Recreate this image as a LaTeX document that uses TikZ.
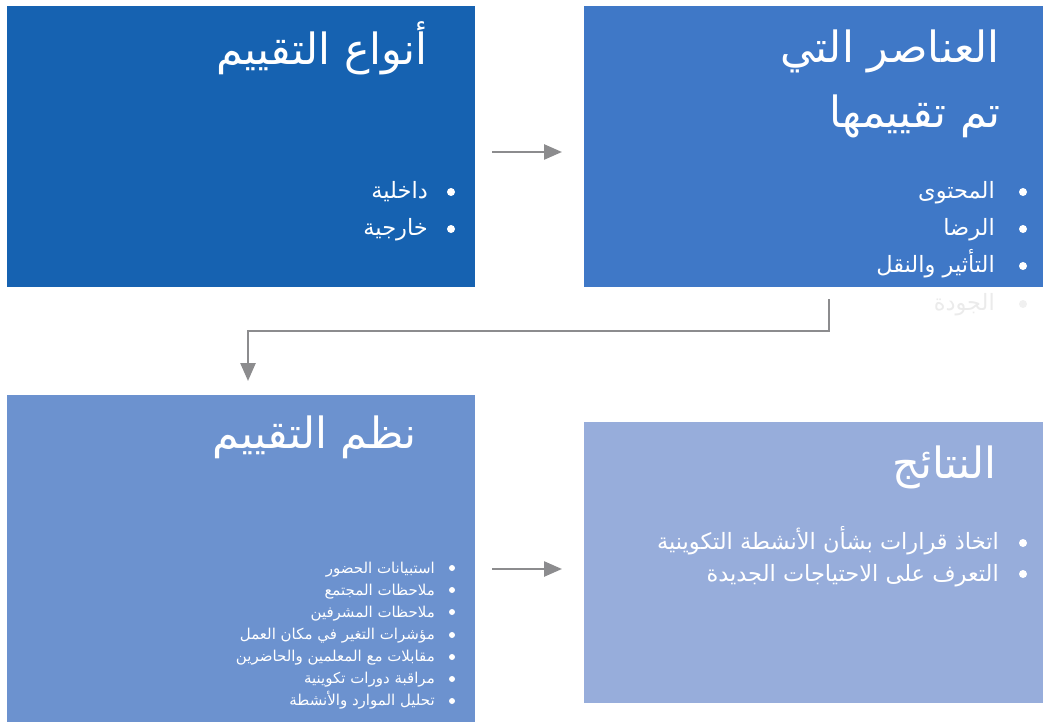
\documentclass[tikz,border=0pt]{standalone}
\usepackage{fontspec}
\usetikzlibrary{arrows.meta}
\TeXXeTstate=1
\newfontfamily\arabicfont[Script=Arabic]{DejaVu Sans}
\newcommand{\artxt}[1]{{\arabicfont\beginR #1\endR}}
\definecolor{boxA}{RGB}{22,98,177}
\definecolor{boxB}{RGB}{63,120,199}
\definecolor{boxC}{RGB}{108,146,207}
\definecolor{boxD}{RGB}{151,173,219}
\definecolor{arrgray}{RGB}{140,140,142}
\tikzset{
  panel/.style={anchor=north west, inner sep=0pt, outer sep=0pt, draw=none},
  ttl/.style={anchor=base east, inner sep=0pt, text=white, font=\arabicfont\fontsize{43}{50}\selectfont},
  itemA/.style={anchor=base east, inner sep=0pt, text=white, font=\arabicfont\fontsize{22.5}{26}\selectfont},
  itemS/.style={anchor=base east, inner sep=0pt, text=white, font=\arabicfont\fontsize{15}{18}\selectfont},
  bul/.style={circle, fill=white, inner sep=0pt, minimum size=8pt},
  buls/.style={circle, fill=white, inner sep=0pt, minimum size=6pt},
  arr/.style={draw=arrgray, line width=2.5pt, -{Triangle[length=18pt,width=15pt]}}
}
\begin{document}
\begin{tikzpicture}[x=1pt,y=-1pt]
\useasboundingbox (0,0) rectangle (1043,722);
% panels
\node[panel, fill=boxA, minimum width=468pt, minimum height=281pt] (b1) at (7,6) {};
\node[panel, fill=boxB, minimum width=459pt, minimum height=281pt] (b2) at (584,6) {};
\node[panel, fill=boxC, minimum width=468pt, minimum height=327pt] (b3) at (7,395) {};
\node[panel, fill=boxD, minimum width=459pt, minimum height=281pt] (b4) at (584,422) {};

% box 1
\node[ttl] (t1) at (428,65) {\artxt{أنواع التقييم}};
\node[bul] (u11) at (451,192) {};
\node[itemA] (i11) at (428,198) {\artxt{داخلية}};
\node[bul] (u12) at (451,229) {};
\node[itemA] (i12) at (428,235) {\artxt{خارجية}};

% box 2
\node[ttl] (t2a) at (1000,63) {\artxt{العناصر التي}};
\node[ttl] (t2b) at (1001,128) {\artxt{تم تقييمها}};
\node[bul] (u21) at (1023,192) {};
\node[itemA] (i21) at (995,198) {\artxt{المحتوى}};
\node[bul] (u22) at (1023,229) {};
\node[itemA] (i22) at (995,235) {\artxt{الرضا}};
\node[bul] (u23) at (1023,266) {};
\node[itemA] (i23) at (995,272) {\artxt{التأثير والنقل}};
\node[bul, fill=black!6] (u24) at (1023,304) {};
\node[itemA, text=black!8] (i24) at (995,310) {\artxt{الجودة}};

% box 3
\node[ttl] (t3) at (417,448) {\artxt{نظم التقييم}};
\node[buls] (u31) at (452,568) {};
\node[itemS] (i31) at (435,573) {\artxt{استبيانات الحضور}};
\node[buls] (u32) at (452,590) {};
\node[itemS] (i32) at (435,595) {\artxt{ملاحظات المجتمع}};
\node[buls] (u33) at (452,612) {};
\node[itemS] (i33) at (435,617) {\artxt{ملاحظات  المشرفين}};
\node[buls] (u34) at (452,635) {};
\node[itemS] (i34) at (435,639) {\artxt{مؤشرات التغير في مكان العمل}};
\node[buls] (u35) at (452,657) {};
\node[itemS] (i35) at (435,661) {\artxt{مقابلات مع المعلمين والحاضرين}};
\node[buls] (u36) at (452,679) {};
\node[itemS] (i36) at (435,683) {\artxt{مراقبة دورات تكوينية}};
\node[buls] (u37) at (452,701) {};
\node[itemS] (i37) at (435,705) {\artxt{تحليل الموارد والأنشطة}};

% box 4
\node[ttl] (t4) at (997,478) {\artxt{النتائج}};
\node[bul] (u41) at (1023,543) {};
\node[itemA] (i41) at (999,549) {\artxt{اتخاذ قرارات بشأن الأنشطة التكوينية}};
\node[bul] (u42) at (1023,574) {};
\node[itemA] (i42) at (999,581) {\artxt{التعرف على الاحتياجات الجديدة}};

% connectors
\coordinate (k1) at (829,331);
\coordinate (k2) at (248,381);
\coordinate (y1) at (0,152);
\coordinate (y3) at (0,569);
\draw[arr, shorten <=17pt, shorten >=22pt] (b1.east |- y1) -- (b2.west |- y1);
\draw[arr] (b2.south -| k1) ++(0,12) -- (k1) -| (k2);
\draw[arr, shorten <=17pt, shorten >=22pt] (b3.east |- y3) -- (b4.west |- y3);
\end{tikzpicture}
\end{document}
